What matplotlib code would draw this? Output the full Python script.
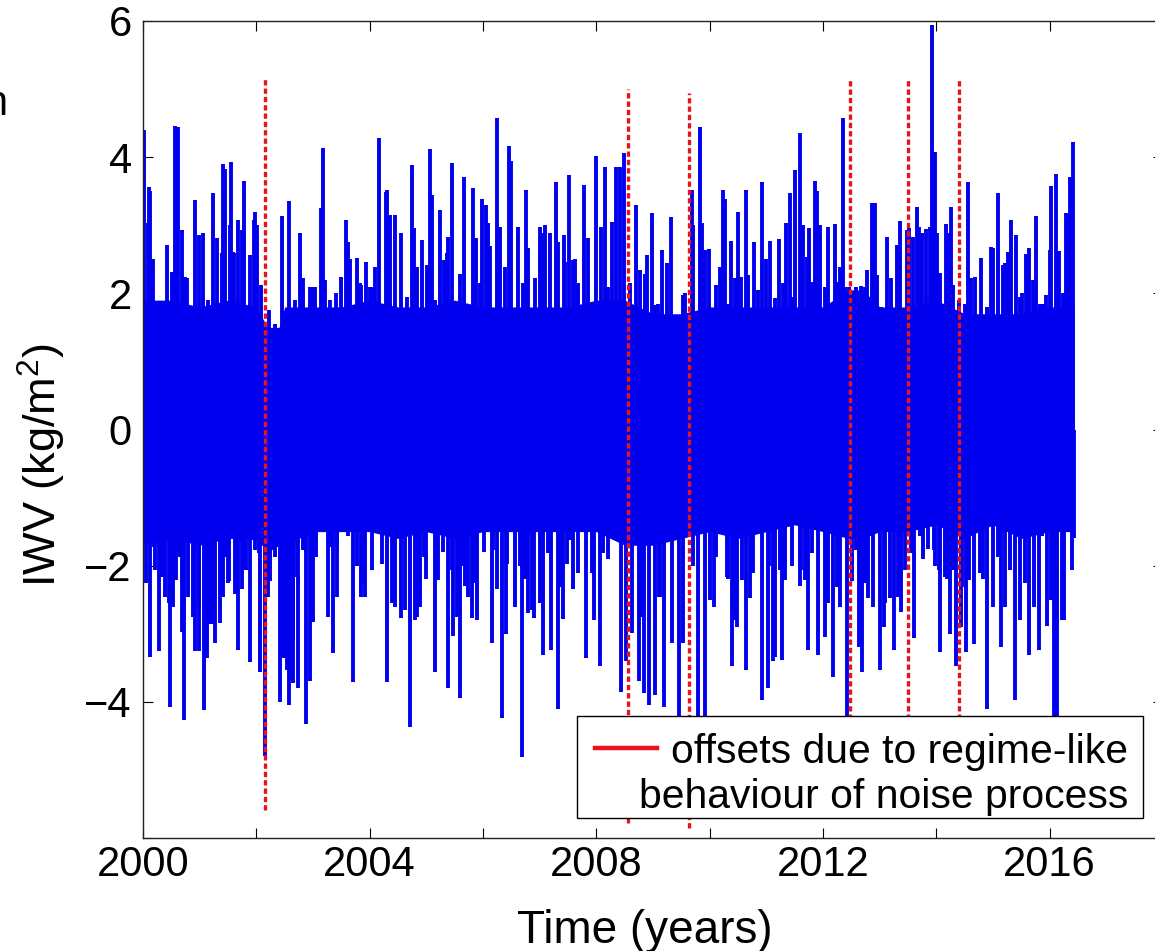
import numpy as np
import matplotlib
matplotlib.use("Agg")
import matplotlib.pyplot as plt
from matplotlib.patches import Rectangle
from matplotlib.lines import Line2D

plt.rcParams['font.family'] = ['Liberation Sans', 'DejaVu Sans']
plt.rcParams['mathtext.fontset'] = 'custom'
plt.rcParams['mathtext.rm'] = 'Liberation Sans'

# ---------------- data ----------------
# large upward excursions of the series
peak_year = [2000.02, 2000.09, 2000.11, 2000.13, 2000.42, 2000.56, 2000.62, 2000.68, 2000.74, 2000.92,
             2001.06, 2001.23, 2001.30, 2001.42, 2001.45, 2001.55, 2001.59, 2001.68, 2001.79, 2001.98,
             2002.02, 2002.09, 2002.22, 2002.33, 2002.45, 2002.58, 2002.68, 2002.77, 2003.00, 2003.04,
             2003.14, 2003.17, 2003.30, 2003.40, 2003.49, 2003.59, 2003.62, 2003.77, 2003.84, 2003.93,
             2004.00, 2004.09, 2004.16, 2004.29, 2004.31, 2004.45, 2004.56, 2004.74, 2004.78, 2004.92,
             2005.07, 2005.10, 2005.24, 2005.36, 2005.46, 2005.67, 2005.82, 2005.88, 2005.99, 2006.06,
             2006.08, 2006.25, 2006.45, 2006.50, 2006.62, 2006.75, 2007.00, 2007.05, 2007.10, 2007.28,
             2007.33, 2007.43, 2007.52, 2007.63, 2007.79, 2007.99, 2008.15, 2008.27, 2008.35, 2008.42,
             2008.48, 2008.70, 2008.90, 2008.98, 2009.15, 2009.31, 2009.56, 2009.68, 2009.83, 2009.87,
             2009.99, 2010.23, 2010.27, 2010.38, 2010.50, 2010.64, 2010.78, 2010.92, 2010.99, 2011.07,
             2011.22, 2011.34, 2011.41, 2011.51, 2011.60, 2011.65, 2011.76, 2011.85, 2011.89, 2011.95,
             2012.08, 2012.21, 2012.35, 2012.46, 2012.58, 2012.67, 2012.77, 2012.86, 2012.92, 2013.02,
             2013.13, 2013.20, 2013.31, 2013.35, 2013.52, 2013.65, 2013.69, 2013.82, 2013.88, 2013.93,
             2013.98, 2014.07, 2014.17, 2014.26, 2014.40, 2014.56, 2014.62, 2014.79, 2014.96, 2015.09,
             2015.21, 2015.32, 2015.41, 2015.52, 2015.64, 2015.76, 2015.83, 2015.93, 2016.03, 2016.11,
             2016.16, 2016.29, 2016.36, 2016.42]
peak_val = [4.40, 3.03, 3.56, 3.50, 2.71, 4.46, 4.45, 2.93, 2.24, 3.37,
            2.89, 3.47, 2.81, 3.90, 3.82, 3.93, 2.60, 3.08, 3.65, 3.19,
            3.00, 2.12, 1.75, 1.55, 3.14, 3.36, 1.90, 2.88, 2.09, 2.09,
            3.25, 4.13, 1.90, 2.00, 2.24, 3.08, 2.75, 2.52, 2.12, 2.46,
            2.09, 2.39, 4.28, 3.49, 3.52, 3.15, 2.88, 3.88, 2.96, 2.78,
            4.12, 3.44, 3.22, 2.59, 3.91, 3.71, 3.55, 2.82, 3.38, 3.30,
            3.04, 4.57, 4.16, 3.95, 2.97, 3.52, 2.97, 2.88, 3.00, 3.64,
            2.76, 2.86, 3.74, 2.50, 3.59, 4.02, 3.85, 3.05, 3.86, 3.86,
            4.06, 3.30, 2.57, 3.18, 2.63, 3.12, 2.00, 3.52, 4.44, 3.04,
            2.65, 3.52, 3.38, 2.77, 3.20, 3.52, 2.75, 3.64, 2.50, 2.77,
            2.80, 3.03, 3.48, 3.81, 4.35, 3.00, 2.96, 3.65, 3.50, 3.00,
            2.98, 3.02, 4.57, 2.10, 2.10, 2.11, 2.34, 3.33, 3.33, 1.80,
            2.83, 2.22, 2.71, 3.06, 2.96, 3.27, 2.97, 2.94, 2.97, 5.94,
            4.08, 2.30, 3.02, 3.27, 1.90, 3.64, 2.23, 2.52, 2.68, 3.48,
            2.45, 3.08, 2.86, 2.00, 2.66, 3.13, 1.85, 1.98, 3.57, 3.76,
            2.62, 3.18, 3.71, 4.23]

# smaller upward excursions
minor_peak_year = [2000.18, 2000.36, 2000.51, 2000.59, 2000.77, 2000.86, 2000.98, 2001.15, 2001.39, 2001.54,
                   2001.61, 2001.74, 2001.89, 2001.95, 2002.83, 2002.95, 2003.21, 2003.65, 2003.83, 2004.04,
                   2004.36, 2004.65, 2004.83, 2005.01, 2005.15, 2005.31, 2005.39, 2005.59, 2005.77, 2005.95,
                   2006.12, 2006.30, 2006.39, 2006.71, 2006.80, 2006.92, 2007.18, 2007.45, 2007.59, 2007.68,
                   2007.86, 2008.09, 2008.21, 2008.59, 2008.77, 2008.86, 2009.04, 2009.08, 2009.24, 2009.53,
                   2009.71, 2009.92, 2010.12, 2010.18, 2010.33, 2010.45, 2010.56, 2010.68, 2010.86, 2011.15,
                   2011.30, 2011.45, 2011.71, 2011.80, 2012.03, 2012.15, 2012.24, 2012.30, 2012.39, 2012.74,
                   2012.95, 2013.01, 2013.48, 2013.59, 2013.74, 2014.01, 2014.12, 2014.21, 2014.30, 2014.51,
                   2014.69, 2014.74, 2014.89, 2015.00, 2015.17, 2015.27, 2015.48, 2015.59, 2015.71, 2015.88,
                   2016.01, 2016.24, 2016.32]
minor_peak_val = [2.51, 1.71, 2.32, 1.95, 2.22, 1.63, 2.86, 1.90, 2.59, 3.00,
                  2.59, 2.93, 2.56, 3.08, 2.22, 2.10, 2.20, 2.51, 2.15, 2.10,
                  3.15, 1.95, 2.39, 2.42, 1.90, 2.49, 2.83, 2.29, 1.75, 2.15,
                  2.69, 2.98, 2.39, 2.15, 2.66, 2.22, 2.88, 2.46, 2.49, 2.15,
                  2.81, 2.98, 2.10, 2.15, 2.34, 2.29, 1.83, 1.85, 2.44, 1.97,
                  3.00, 2.64, 2.12, 2.39, 1.85, 2.22, 2.24, 2.27, 2.05, 1.93,
                  2.15, 1.95, 2.54, 2.17, 2.10, 1.80, 2.17, 2.39, 2.10, 2.10,
                  2.27, 1.66, 2.93, 2.83, 2.88, 2.88, 1.80, 2.88, 2.12, 1.85,
                  2.24, 1.66, 1.80, 2.66, 2.42, 2.61, 1.95, 2.58, 2.19, 1.85,
                  2.63, 2.00, 3.17]

# large downward excursions of the series
trough_year = [2000.12, 2000.19, 2000.28, 2000.34, 2000.39, 2000.48, 2000.53, 2000.60, 2000.69,
               2000.73, 2000.80, 2000.92, 2000.99, 2001.08, 2001.13, 2001.17, 2001.27, 2001.36, 2001.45,
               2001.50, 2001.67, 2001.74, 2001.78, 2001.89, 2001.98, 2002.06, 2002.15, 2002.20, 2002.41,
               2002.48, 2002.57, 2002.64, 2002.65, 2002.74, 2002.87, 2002.94, 2003.00, 2003.15, 2003.26,
               2003.36, 2003.43, 2003.55, 2003.71, 2003.84, 2003.91, 2004.11, 2004.30, 2004.39, 2004.44,
               2004.55, 2004.72, 2004.80, 2004.89, 2004.99, 2005.05, 2005.15, 2005.30, 2005.39, 2005.47,
               2005.59, 2005.68, 2005.80, 2005.90, 2006.15, 2006.24, 2006.33, 2006.40, 2006.57, 2006.68,
               2006.80, 2006.90, 2007.06, 2007.20, 2007.32, 2007.41, 2007.58, 2007.82, 2007.95, 2008.07,
               2008.21, 2008.43, 2008.53, 2008.63, 2008.76, 2008.84, 2008.93, 2009.03, 2009.10, 2009.19,
               2009.34, 2009.46, 2009.53, 2009.79, 2009.92, 2010.00, 2010.08, 2010.33, 2010.40, 2010.45,
               2010.64, 2010.71, 2010.93, 2011.03, 2011.12, 2011.27, 2011.45, 2011.60, 2011.74, 2011.91,
               2012.03, 2012.18, 2012.30, 2012.43, 2012.52, 2012.63, 2012.69, 2012.80, 2012.88, 2013.00,
               2013.08, 2013.26, 2013.38, 2013.61, 2013.77, 2013.98, 2014.07, 2014.18, 2014.24, 2014.35,
               2014.43, 2014.52, 2014.67, 2014.83, 2014.90, 2015.00, 2015.14, 2015.22, 2015.39, 2015.47,
               2015.64, 2015.72, 2015.81, 2015.96, 2016.08, 2016.13, 2016.21, 2016.39, 2016.43]
trough_val = [-3.34, -1.72, -3.26, -1.70, -2.46, -4.07, -2.60, -1.80, -2.97,
              -4.27, -2.46, -3.26, -3.26, -4.12, -3.36, -2.85, -3.14, -2.84, -1.88,
              -2.25, -3.24, -2.35, -2.05, -3.41, -1.77, -3.56, -4.80, -2.46, -4.00,
              -3.36, -4.05, -3.10, -3.73, -3.79, -4.32, -3.69, -2.83, -1.20, -2.75,
              -3.29, -2.46, -1.50, -3.71, -2.46, -2.46, -1.50, -3.71, -2.55, -2.60,
              -2.77, -4.37, -2.80, -2.60, -2.20, -1.50, -3.56, -1.80, -3.80, -3.03,
              -3.95, -2.30, -2.77, -2.80, -3.14, -2.35, -4.24, -3.00, -2.60, -4.81,
              -2.69, -2.77, -3.31, -3.24, -4.10, -2.79, -2.35, -3.36, -2.80, -3.48,
              -1.90, -3.85, -3.40, -2.99, -3.70, -3.87, -4.05, -3.90, -2.46, -4.07,
              -3.14, -4.30, -3.14, -4.40, -4.35, -2.50, -2.60, -2.20, -3.48, -2.80,
              -3.53, -2.48, -3.97, -3.80, -3.40, -3.39, -2.00, -2.30, -3.24, -3.31,
              -3.05, -3.63, -2.60, -4.40, -2.23, -3.20, -3.56, -2.48, -2.60, -3.53,
              -2.90, -3.24, -2.68, -3.06, -1.90, -2.00, -3.27, -2.20, -3.00, -3.48,
              -2.90, -3.27, -3.15, -2.20, -4.10, -2.60, -3.20, -2.60, -3.97, -2.80,
              -3.31, -2.60, -3.24, -2.88, -4.30, -4.35, -2.80, -2.06, -1.60]

# smaller downward excursions
minor_trough_year = [2000.06, 2000.21, 2000.33, 2000.45, 2000.58, 2000.65, 2000.89, 2000.98, 2001.21, 2001.42,
                     2001.51, 2001.62, 2001.71, 2001.82, 2001.95, 2002.04, 2002.24, 2002.33, 2002.45, 2002.54,
                     2002.62, 2002.71, 2002.82, 2002.98, 2003.06, 2003.30, 2003.42, 2003.62, 2003.77, 2003.86,
                     2004.04, 2004.15, 2004.21, 2004.42, 2004.62, 2004.84, 2004.95, 2005.21, 2005.27, 2005.45,
                     2005.54, 2005.65, 2005.74, 2005.86, 2006.01, 2006.18, 2006.42, 2006.51, 2006.65, 2006.74,
                     2006.86, 2007.01, 2007.15, 2007.36, 2007.48, 2007.53, 2007.68, 2007.92, 2008.01, 2008.12,
                     2008.24, 2008.36, 2008.70, 2008.80, 2009.12, 2009.27, 2009.42, 2009.71, 2009.98, 2010.12,
                     2010.24, 2010.30, 2010.48, 2010.57, 2010.77, 2010.83, 2011.04, 2011.15, 2011.24, 2011.33,
                     2011.39, 2011.51, 2011.62, 2011.68, 2011.80, 2011.86, 2011.98, 2012.09, 2012.24, 2012.59,
                     2012.74, 2012.95, 2013.09, 2013.18, 2013.33, 2013.44, 2013.56, 2013.71, 2013.86, 2013.95,
                     2014.04, 2014.15, 2014.30, 2014.46, 2014.58, 2014.77, 2014.95, 2015.09, 2015.30, 2015.56,
                     2015.86, 2015.92, 2016.03, 2016.26, 2016.30]
minor_trough_val = [-2.26, -2.06, -2.16, -2.55, -2.21, -1.87, -2.75, -2.60, -2.85, -2.46,
                    -2.23, -2.41, -1.65, -2.06, -1.62, -1.82, -2.23, -1.87, -3.34, -3.53,
                    -3.68, -2.16, -1.77, -2.31, -1.87, -1.72, -1.72, -1.57, -2.01, -2.26,
                    -2.06, -1.52, -1.97, -2.31, -2.65, -2.75, -1.87, -2.21, -1.48, -2.06,
                    -2.75, -2.01, -2.46, -2.26, -1.80, -1.77, -1.97, -1.33, -2.01, -2.19,
                    -2.65, -2.55, -1.82, -2.31, -1.97, -1.62, -2.11, -2.11, -1.33, -1.82,
                    -1.45, -1.57, -1.50, -2.75, -2.46, -1.57, -1.23, -2.01, -1.28, -1.87,
                    -1.43, -2.16, -2.90, -2.21, -2.11, -1.40, -2.01, -3.34, -2.06, -2.21,
                    -1.33, -1.18, -2.06, -2.21, -1.82, -1.48, -1.23, -2.55, -2.31, -1.77,
                    -2.26, -0.99, -2.55, -2.48, -2.46, -2.06, -1.82, -1.57, -1.75, -1.77,
                    -2.06, -2.16, -2.06, -2.31, -2.21, -2.11, -1.18, -1.87, -2.06, -2.26,
                    -1.57, -1.52, -2.50, -2.80, -0.84]

# solid central band of the daily series (upper / lower edge)
core_year = [2000.00, 2000.50, 2001.00, 2001.50, 2002.00, 2002.20, 2002.40, 2002.50, 2003.00,
             2003.50, 2004.00, 2004.50, 2005.00, 2005.50, 2006.00, 2006.50, 2007.00, 2007.50,
             2008.00, 2008.50, 2009.00, 2009.50, 2010.00, 2010.50, 2011.00, 2011.50, 2012.00,
             2012.45, 2012.70, 2013.00, 2013.50, 2014.00, 2014.50, 2015.00, 2015.50, 2016.00,
             2016.43]
core_hi = [1.90, 1.90, 1.80, 1.90, 1.80, 1.50, 1.50, 1.80, 1.80,
           1.80, 1.90, 1.80, 1.80, 1.90, 1.80, 1.80, 1.80, 1.80,
           1.90, 1.90, 1.70, 1.70, 1.80, 1.80, 1.80, 1.80, 1.80,
           2.05, 2.05, 1.80, 1.80, 1.90, 1.70, 1.70, 1.70, 1.80,
           1.80]
core_lo = [-1.70, -1.60, -1.70, -1.60, -1.60, -1.80, -1.70, -1.70, -1.50,
           -1.50, -1.50, -1.60, -1.50, -1.60, -1.50, -1.50, -1.50, -1.50,
           -1.50, -1.70, -1.70, -1.60, -1.50, -1.60, -1.50, -1.40, -1.50,
           -1.60, -1.60, -1.50, -1.50, -1.40, -1.60, -1.40, -1.60, -1.50,
           -1.50]

offset_year = [2002.15, 2008.56, 2009.63, 2012.48, 2013.50, 2014.40]
offset_top = [5.18, 5.00, 4.94, 5.13, 5.13, 5.16]
offset_bottom = [-5.59, -5.78, -5.85, -5.60, -5.60, -5.60]

xtick_pos = [2000, 2002, 2004, 2006, 2008, 2010, 2012, 2014, 2016, 2018]
xtick_labels = ['2000', '', '2004', '', '2008', '', '2012', '', '2016', '']
ytick_pos = [-6, -4, -2, 0, 2, 4, 6]
ytick_labels = ['', '\u22124', '\u22122', '0', '2', '4', '6']

legend_line1 = 'offsets due to regime-like'
legend_line2 = 'behaviour of noise process'

# ---------------- figure ----------------
W, H = 1155, 951
BLUE = '#0000ee'
RED = '#e8141c'
fig = plt.figure(figsize=(W / 100, H / 100), dpi=100)
ax = fig.add_axes([143 / W, 113 / H, 1020 / W, 817 / H])

ax.fill_between(core_year, core_lo, core_hi, color=BLUE, lw=0, zorder=2)
ax.vlines(peak_year, 0, peak_val, color=BLUE, lw=2.8, zorder=2)
ax.vlines(minor_peak_year, 0, minor_peak_val, color=BLUE, lw=2.8, zorder=2)
ax.vlines(trough_year, trough_val, 0, color=BLUE, lw=2.8, zorder=2)
ax.vlines(minor_trough_year, minor_trough_val, 0, color=BLUE, lw=2.8, zorder=2)

for xo, yt, yb in zip(offset_year, offset_top, offset_bottom):
    ax.plot([xo, xo], [yb, yt], color=RED, lw=2.4,
            linestyle=(0, (1.6, 0.9)), zorder=3)

ax.set_xlim(2000, 2018)
ax.set_ylim(-6, 6)
ax.set_xticks(xtick_pos)
ax.set_xticklabels(xtick_labels)
ax.set_yticks(ytick_pos)
ax.set_yticklabels(ytick_labels)
ax.tick_params(axis='both', direction='in', length=7.2, width=0.8,
               top=True, right=True, labelsize=30)
ax.tick_params(axis='x', pad=5)
ax.tick_params(axis='y', pad=8)
for s in ax.spines.values():
    s.set_linewidth(1.0)
    s.set_color('#222222')

# axis labels
fig.text(645 / W, 1 - 943 / H, 'Time (years)', ha='center', va='baseline', fontsize=33)
fig.text(42 / W, 1 - 465 / H, r'IWV (kg/m$^\mathregular{2}$)', rotation=90,
         ha='center', va='center', fontsize=32.5)

# cropped fragment at the left edge
fig.text(7 / W, 1 - 115 / H, 'n', ha='right', va='baseline', fontsize=30)

# legend (drawn manually to match layout)
fig.add_artist(Rectangle((577 / W, 1 - 818 / H), (1143 - 577) / W, (818 - 716) / H,
                         transform=fig.transFigure, facecolor='white',
                         edgecolor='black', lw=1.0, zorder=10))
fig.add_artist(Line2D([595 / W, 657 / W], [1 - 748 / H, 1 - 748 / H],
                      transform=fig.transFigure, color=RED, lw=3.2, zorder=11))
fig.text(1128 / W, 1 - 763 / H, legend_line1, ha='right', va='baseline',
         fontsize=29.4, zorder=11)
fig.text(1128 / W, 1 - 808 / H, legend_line2, ha='right', va='baseline',
         fontsize=29.4, zorder=11)

fig.savefig('out.png', dpi=100)
